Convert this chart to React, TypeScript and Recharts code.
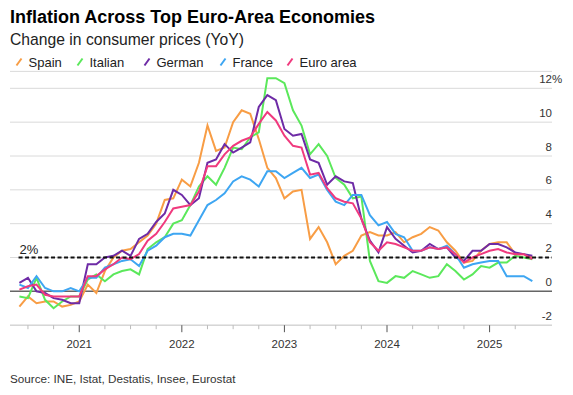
import React from "react";
import { LineChart, Line, XAxis, YAxis, CartesianGrid, ReferenceLine } from "recharts";

// Months (month-end observations)
const MONTHS = [
  "2020-05", "2020-06", "2020-07", "2020-08", "2020-09", "2020-10", "2020-11", "2020-12",
  "2021-01", "2021-02", "2021-03", "2021-04", "2021-05", "2021-06", "2021-07", "2021-08", "2021-09", "2021-10", "2021-11", "2021-12",
  "2022-01", "2022-02", "2022-03", "2022-04", "2022-05", "2022-06", "2022-07", "2022-08", "2022-09", "2022-10", "2022-11", "2022-12",
  "2023-01", "2023-02", "2023-03", "2023-04", "2023-05", "2023-06", "2023-07", "2023-08", "2023-09", "2023-10", "2023-11", "2023-12",
  "2024-01", "2024-02", "2024-03", "2024-04", "2024-05", "2024-06", "2024-07", "2024-08", "2024-09", "2024-10", "2024-11", "2024-12",
  "2025-01", "2025-02", "2025-03", "2025-04", "2025-05",
];

const SPAIN = [
  -0.9, -0.3, -0.7, -0.6, -0.6, -0.9, -0.8, -0.6,
  0.4, -0.1, 1.2, 2.0, 2.4, 2.5, 2.9, 3.3, 4.0, 5.4, 5.5, 6.6,
  6.2, 7.6, 9.8, 8.3, 8.5, 10.0, 10.7, 10.5, 9.0, 7.3, 6.7, 5.5,
  5.9, 6.0, 3.1, 3.8, 2.9, 1.6, 2.1, 2.4, 3.3, 3.5, 3.3, 3.3,
  3.5, 2.9, 3.2, 3.4, 3.8, 3.6, 2.9, 2.4, 1.7, 1.8, 2.4, 2.8,
  2.9, 2.9, 2.2, 2.2, 2.0,
];

const ITALY = [
  -0.3, -0.4, 0.8, -0.5, -1.0, -0.6, -0.3, -0.3,
  0.7, 1.0, 0.6, 1.0, 1.2, 1.3, 1.0, 2.5, 2.9, 3.2, 4.0, 4.2,
  5.1, 6.2, 6.8, 6.3, 7.3, 8.5, 8.4, 9.1, 9.4, 12.6, 12.6, 12.3,
  10.7, 9.8, 8.1, 8.7, 8.0, 6.7, 6.3, 5.5, 5.6, 1.8, 0.6, 0.5,
  0.9, 0.8, 1.2, 1.0, 0.8, 0.9, 1.6, 1.2, 0.7, 1.0, 1.5, 1.4,
  1.7, 1.7, 2.1, 2.0, 1.9,
];

const GERMANY = [
  0.5, 0.8, 0.0, -0.1, -0.4, -0.5, -0.7, -0.7,
  1.6, 1.6, 2.0, 2.1, 2.4, 2.1, 3.1, 3.4, 4.1, 4.6, 6.0, 5.7,
  5.1, 5.5, 7.6, 7.8, 8.7, 8.2, 8.5, 8.8, 10.9, 11.6, 11.3, 9.6,
  9.2, 9.3, 7.8, 7.6, 6.3, 6.8, 6.5, 6.4, 4.3, 3.0, 2.3, 3.8,
  3.1, 2.7, 2.3, 2.4, 2.8, 2.5, 2.6, 2.0, 1.8, 2.4, 2.4, 2.8,
  2.8, 2.6, 2.3, 2.2, 2.1,
];

const FRANCE = [
  0.4, 0.2, 0.9, 0.2, 0.0, 0.0, 0.2, 0.0,
  0.8, 0.8, 1.4, 1.6, 1.8, 1.9, 1.5, 2.4, 2.7, 3.2, 3.4, 3.4,
  3.3, 4.2, 5.1, 5.4, 5.8, 6.5, 6.8, 6.6, 6.2, 7.1, 7.1, 6.7,
  7.0, 7.3, 6.7, 6.9, 6.0, 5.3, 5.1, 5.7, 5.7, 4.5, 3.9, 4.1,
  3.4, 3.2, 2.4, 2.4, 2.6, 2.5, 2.7, 2.2, 1.4, 1.6, 1.7, 1.8,
  1.8, 0.9, 0.9, 0.9, 0.6,
];

const EURO_AREA = [
  0.1, 0.3, 0.4, -0.2, -0.3, -0.3, -0.3, -0.3,
  0.9, 0.9, 1.3, 1.6, 2.0, 1.9, 2.2, 3.0, 3.4, 4.1, 4.9, 5.0,
  5.1, 5.9, 7.4, 7.4, 8.1, 8.6, 8.9, 9.1, 9.9, 10.6, 10.1, 9.2,
  8.6, 8.5, 6.9, 7.0, 6.1, 5.5, 5.3, 5.2, 4.3, 2.9, 2.4, 2.9,
  2.8, 2.6, 2.4, 2.4, 2.6, 2.5, 2.6, 2.2, 1.7, 2.0, 2.2, 2.4,
  2.5, 2.3, 2.2, 2.2, 1.9,
];

const Y_TICKS = [-2, 0, 2, 4, 6, 8, 10, 12];
const Y_DOMAIN: [number, number] = [-2, 13];
const YEAR_LABELS = [2021, 2022, 2023, 2024, 2025];
const TARGET = 2;
const BASE_YEAR = 2020;

const SERIES = [
  { key: "spain", name: "Spain", color: "#F89D45", values: SPAIN },
  { key: "italy", name: "Italian", color: "#5BE85B", values: ITALY },
  { key: "germany", name: "German", color: "#6E2BA6", values: GERMANY },
  { key: "france", name: "France", color: "#3EA6F2", values: FRANCE },
  { key: "euro", name: "Euro area", color: "#F03A7E", values: EURO_AREA },
];

// position on a monthly time axis: month-end of month m
const monthPos = (s: string) => {
  const [y, m] = s.split("-").map(Number);
  return (y - BASE_YEAR) * 12 + m;
};

const rows = MONTHS.map((m, i) => {
  const r: any = { t: monthPos(m) };
  SERIES.forEach((s) => (r[s.key] = s.values[i]));
  return r;
});

// quarterly ticks from Jul 2020 to Apr 2025
const X_TICKS: number[] = [];
for (let t = 6; t <= 63; t += 3) X_TICKS.push(t);

const X_DOMAIN: [number, number] = [3.9, 67.3];
const FONT = "'Liberation Sans', Arial, Helvetica, sans-serif";

const XTick = (props: any) => {
  const { x, y, payload } = props;
  const t = payload.value;
  const isYear = t % 12 === 0;
  const year = BASE_YEAR + t / 12;
  return (
    <g>
      <line x1={x} x2={x} y1={y} y2={y + (isYear ? 7 : 4)} stroke={isYear ? "#555" : "#bbb"} strokeWidth={1} />
      {isYear && YEAR_LABELS.includes(year) && (
        <text x={x} y={y + 23} textAnchor="middle" fontSize={11.5} fill="#333" fontFamily={FONT}>
          {year}
        </text>
      )}
    </g>
  );
};

const YTick = (props: any) => {
  const { x, y, payload } = props;
  const v = payload.value;
  const top = v === Y_TICKS[Y_TICKS.length - 1];
  return (
    <g>
      <text x={x} y={y - 5.5} textAnchor="end" fontSize={11.5} fill="#333" fontFamily={FONT}>
        {String(v)}
      </text>
      {top && (
        <text x={x} y={y - 5.5} textAnchor="start" fontSize={11.5} fill="#333" fontFamily={FONT}>
          %
        </text>
      )}
    </g>
  );
};

const TargetLabel = (props: any) => {
  const vb = props.viewBox || {};
  return (
    <text x={(vb.x || 0) + 1} y={(vb.y || 0) - 3.5} fontSize={13} fill="#222" fontFamily={FONT}>
      {`${TARGET}%`}
    </text>
  );
};

const LEGEND_X = [16, 77, 144, 220, 287];

export default function App() {
  return (
    <div style={{ position: "absolute", left: 0, top: 0, width: 573, height: 395, background: "#fff", fontFamily: FONT }}>
      <LineChart
        width={573}
        height={395}
        data={rows}
        margin={{ top: 71.4, right: 21, bottom: 39.8, left: 10 }}
      >
        <CartesianGrid horizontal={true} vertical={false} stroke="#dadada" strokeWidth={1} />
        <XAxis
          dataKey="t"
          type="number"
          domain={X_DOMAIN}
          ticks={X_TICKS}
          interval={0}
          allowDataOverflow
          height={30}
          tickSize={0}
          tickMargin={0}
          tickLine={false}
          axisLine={{ stroke: "#cfcfcf", strokeWidth: 1 }}
          tick={<XTick />}
        />
        <YAxis
          type="number"
          orientation="right"
          mirror
          domain={Y_DOMAIN}
          allowDataOverflow
          ticks={Y_TICKS}
          interval={0}
          width={30}
          tickSize={0}
          tickMargin={0}
          axisLine={false}
          tickLine={false}
          tick={<YTick />}
        />
        <ReferenceLine y={0} stroke="#666" strokeWidth={1.5} />
        {SERIES.map((s) => (
          <Line
            key={s.key}
            dataKey={s.key}
            name={s.name}
            type="linear"
            stroke={s.color}
            strokeWidth={2}
            dot={false}
            activeDot={false}
            isAnimationActive={false}
          />
        ))}
        <ReferenceLine
          segment={[{ x: 4.9, y: TARGET }, { x: X_DOMAIN[1], y: TARGET }]}
          stroke="#111"
          strokeWidth={1.8}
          strokeDasharray="4 2.5"
          label={<TargetLabel />}
        />
      </LineChart>
      <svg
        width={573}
        height={395}
        style={{ position: "absolute", left: 0, top: 0, pointerEvents: "none" }}
      >
        <text x={10} y={23} fontSize={18} fontWeight="bold" fill="#000" fontFamily={FONT}>
          Inflation Across Top Euro-Area Economies
        </text>
        <text x={10} y={45} fontSize={15.7} fill="#222" fontFamily={FONT}>
          Change in consumer prices (YoY)
        </text>
        {SERIES.map((s, i) => (
          <g key={s.key}>
            <line x1={LEGEND_X[i] + 0.5} y1={65.5} x2={LEGEND_X[i] + 5.5} y2={58.5} stroke={s.color} strokeWidth={2} />
            <text x={LEGEND_X[i] + 12.5} y={67} fontSize={13} fill="#222" fontFamily={FONT}>
              {s.name}
            </text>
          </g>
        ))}
        <text x={10} y={383} fontSize={11.7} fill="#333" fontFamily={FONT}>
          Source: INE, Istat, Destatis, Insee, Eurostat
        </text>
      </svg>
    </div>
  );
}
